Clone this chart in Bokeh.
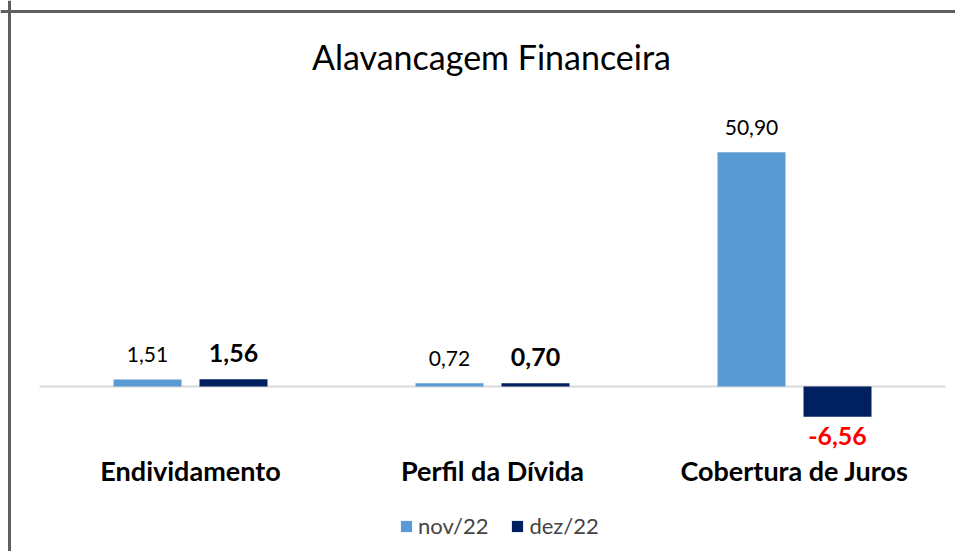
from bokeh.plotting import figure
from bokeh.models import ColumnDataSource, Range1d, Span, Legend, LegendItem
from bokeh.core.properties import value
from bokeh.embed import file_html
from bokeh.resources import INLINE

# ---- data ----
categories = ["Endividamento", "Perfil da Dívida", "Cobertura de Juros"]
nov22 = [1.51, 0.72, 50.90]
dez22 = [1.56, 0.70, -6.56]
nov_labels = ["1,51", "0,72", "50,90"]
dez_labels = ["1,56", "0,70", "-6,56"]
series_names = ["nov/22", "dez/22"]
title_text = "Alavancagem Financeira"

# ---- layout ----
W, H = 955, 551
PX_X = 302.0   # pixels per category
PX_Y = 4.6     # pixels per unit
x0 = -190 / PX_X
x1 = x0 + W / PX_X
y0 = -(H - 386) / PX_Y
y1 = y0 + H / PX_Y

def ytop(px):
    return y1 - px / PX_Y

def xleft(px):
    return x0 + px / PX_X

FONT = "Lato"
NOV_C = "#5B9BD5"
DEZ_C = "#002060"
OFF = 43 / PX_X
BW = 68 / PX_X

p = figure(width=W, height=H, x_range=Range1d(x0, x1), y_range=Range1d(y0, y1),
           output_backend="svg", toolbar_location=None, min_border=0,
           x_axis_location=None, y_axis_location=None)
p.xgrid.visible = False
p.ygrid.visible = False
p.outline_line_color = None
p.background_fill_color = "white"
p.border_fill_color = "white"

idx = list(range(len(categories)))

src_nov = ColumnDataSource(dict(
    x=[i - OFF for i in idx], top=nov22, lab=nov_labels,
    yoff=[-25 if v >= 0 else 18 for v in nov22],
    col=["#000000" if v >= 0 else "#FF0000" for v in nov22]))
src_dez = ColumnDataSource(dict(
    x=[i + OFF for i in idx], top=dez22, lab=dez_labels,
    yoff=[-26 if v >= 0 else 19 for v in dez22],
    col=["#000000" if v >= 0 else "#FF0000" for v in dez22]))

# baseline
p.segment(x0=[-0.5], y0=[0], x1=[2.5], y1=[0], line_color="#D9D9D9", line_width=2)

r_nov = p.vbar(x="x", top="top", bottom=0, width=BW, source=src_nov,
               fill_color=NOV_C, line_color=None)
r_dez = p.vbar(x="x", top="top", bottom=0, width=BW, source=src_dez,
               fill_color=DEZ_C, line_color=None)

p.text(x="x", y="top", text="lab", y_offset="yoff", source=src_nov,
       text_font=value(FONT), text_font_size="21px", text_color="col",
       text_align="center", text_baseline="middle")
p.text(x="x", y="top", text="lab", y_offset="yoff", source=src_dez,
       text_font=value(FONT), text_font_size="25px", text_font_style="bold",
       text_color="col", text_align="center", text_baseline="middle")

# category labels
p.text(x=idx, y=[ytop(470)] * 3, text=categories,
       text_font=value(FONT), text_font_size="27px", text_font_style="bold",
       text_color="#000000", text_align="center", text_baseline="middle")

# title
p.text(x=[xleft(491)], y=[ytop(56)], text=[title_text],
       text_font=value(FONT), text_font_size="34px", text_color="#000000",
       text_align="center", text_baseline="middle")

# chart border (left / top)
p.add_layout(Span(location=xleft(9), dimension="height", line_color="#5F5F5F", line_width=3))
p.add_layout(Span(location=ytop(11), dimension="width", line_color="#5F5F5F", line_width=3))

legend = Legend(items=[LegendItem(label=series_names[0], renderers=[r_nov]),
                       LegendItem(label=series_names[1], renderers=[r_dez])],
                location=(399, 12), orientation="horizontal",
                glyph_width=14, glyph_height=14, label_standoff=5, spacing=22,
                label_height=22,
                padding=0, margin=0, label_text_font=FONT, label_text_font_size="22px",
                border_line_color=None, background_fill_alpha=0)
p.add_layout(legend)

open("out.html", "w").write(file_html(p, INLINE))
